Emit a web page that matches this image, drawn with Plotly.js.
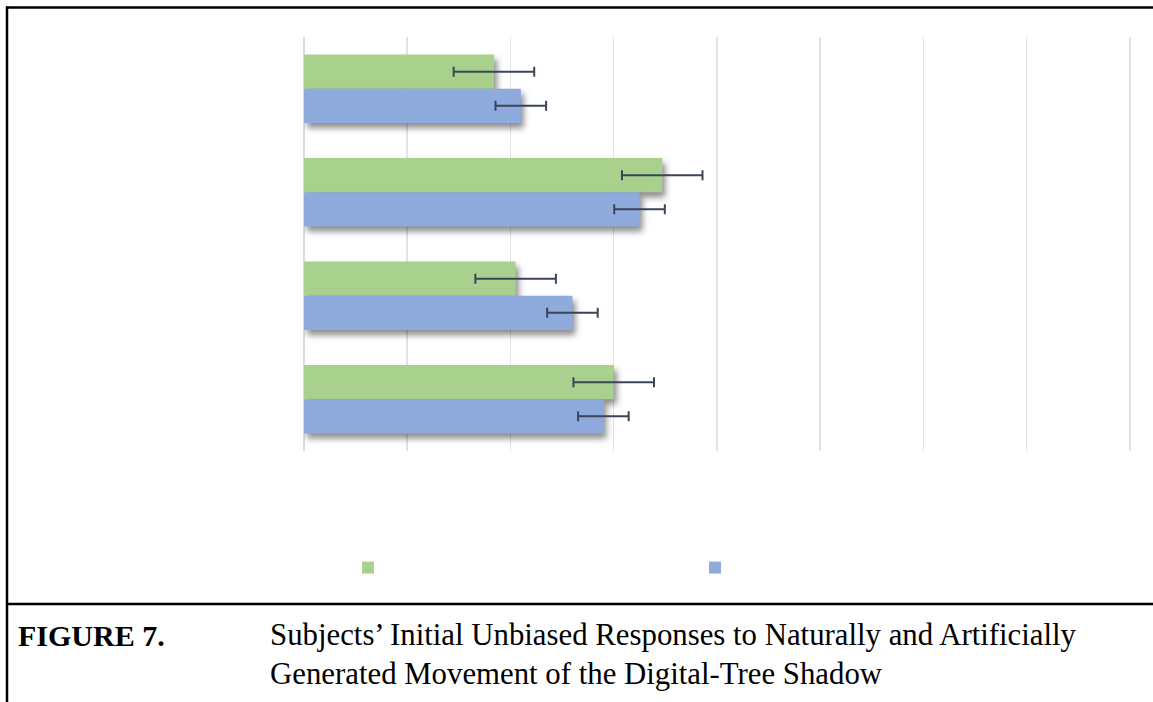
<!DOCTYPE html>
<html>
<head>
<meta charset="utf-8">
<script src="https://cdn.plot.ly/plotly-3.0.1.min.js"></script>
<style>
  html, body { margin: 0; padding: 0; background: #ffffff; }
  #chart { width: 1153px; height: 702px; }
</style>
</head>
<body>
<div id="chart"></div>
<script>
// ---- data ----
const categories = ['Group 1', 'Group 2', 'Group 3', 'Group 4'];
const seriesNames = ['Naturally Generated Movement', 'Artificially Generated Movement'];
const naturalValues = [1.84, 3.47, 2.05, 3.00];
const naturalErrors = [0.39, 0.39, 0.39, 0.39];
const artificialValues = [2.10, 3.25, 2.60, 2.90];
const artificialErrors = [0.245, 0.245, 0.245, 0.245];
const captionLabel = 'FIGURE 7.';
const captionLines = [
  'Subjects\u2019 Initial Unbiased Responses to Naturally and Artificially',
  'Generated Movement of the Digital-Tree Shadow'
];

// ---- layout helpers (pixel -> paper) ----
const W = 1153, H = 702;
const M = { l: 304, r: 20, t: 37, b: 251 };
const PW = W - M.l - M.r, PH = H - M.t - M.b;
const px = x => (x - M.l) / PW;
const py = y => (H - M.b - y) / PH;

const errColor = '#3a4557';
const traces = [
  {
    type: 'bar', orientation: 'h', name: ' ',
    y: categories, x: naturalValues,
    marker: { color: '#a9d18e' },
    error_x: { type: 'data', array: naturalErrors, visible: true, color: errColor, thickness: 2, width: 5 },
    hoverinfo: 'x'
  },
  {
    type: 'bar', orientation: 'h', name: '  ',
    y: categories, x: artificialValues,
    marker: { color: '#8faadc' },
    error_x: { type: 'data', array: artificialErrors, visible: true, color: errColor, thickness: 2, width: 5 },
    hoverinfo: 'x'
  }
];

const lineStyle = { color: '#000000', width: 2.5 };
const shapes = [
  { type: 'line', xref: 'paper', yref: 'paper', x0: px(6), x1: px(1160), y0: py(7.5), y1: py(7.5), line: lineStyle },
  { type: 'line', xref: 'paper', yref: 'paper', x0: px(7), x1: px(7), y0: py(6.5), y1: py(710), line: lineStyle },
  { type: 'line', xref: 'paper', yref: 'paper', x0: px(6), x1: px(1160), y0: py(604), y1: py(604), line: lineStyle }
];

const capFont = { family: 'Liberation Serif, Times New Roman, serif', size: 30.8, color: '#000000' };
const labelFont = { family: 'Liberation Serif, Times New Roman, serif', size: 30, color: '#000000', weight: 'bold' };
const annotations = [
  { xref: 'paper', yref: 'paper', x: px(16), y: py(635), xanchor: 'left', yanchor: 'middle', text: captionLabel, showarrow: false, font: labelFont },
  { xref: 'paper', yref: 'paper', x: px(268), y: py(635), xanchor: 'left', yanchor: 'middle', text: captionLines[0], showarrow: false, font: capFont },
  { xref: 'paper', yref: 'paper', x: px(268), y: py(674), xanchor: 'left', yanchor: 'middle', text: captionLines[1], showarrow: false, font: capFont }
];

const layout = {
  width: W, height: H,
  margin: M,
  paper_bgcolor: '#ffffff', plot_bgcolor: '#ffffff',
  barmode: 'group', bargap: 0.34, bargroupgap: 0,
  showlegend: true,
  legend: {
    orientation: 'h', x: px(348), y: py(568), xanchor: 'left', yanchor: 'middle',
    entrywidth: 302, entrywidthmode: 'pixels', bgcolor: 'rgba(0,0,0,0)',
    font: { family: 'Liberation Serif, serif', size: 14, color: '#000' }, traceorder: 'normal'
  },
  xaxis: {
    range: [0, 8.03], dtick: 1, tick0: 0,
    showgrid: true, gridcolor: '#dfe3ea', gridwidth: 1.5,
    zeroline: true, zerolinecolor: '#d9dde5', zerolinewidth: 2,
    showticklabels: false, ticks: '', showline: false, fixedrange: true
  },
  yaxis: {
    type: 'category', autorange: 'reversed',
    showgrid: false, zeroline: false, showticklabels: false, ticks: '', showline: false, fixedrange: true
  },
  shapes: shapes,
  annotations: annotations,
  font: { family: 'Liberation Serif, serif' }
};

Plotly.newPlot('chart', traces, layout, { displayModeBar: false, staticPlot: true }).then(() => {
  document.querySelectorAll('.barlayer .trace .points').forEach(g => {
    g.style.filter = 'drop-shadow(3px 5px 3px rgba(0,0,0,0.45))';
  });
});
</script>
</body>
</html>
